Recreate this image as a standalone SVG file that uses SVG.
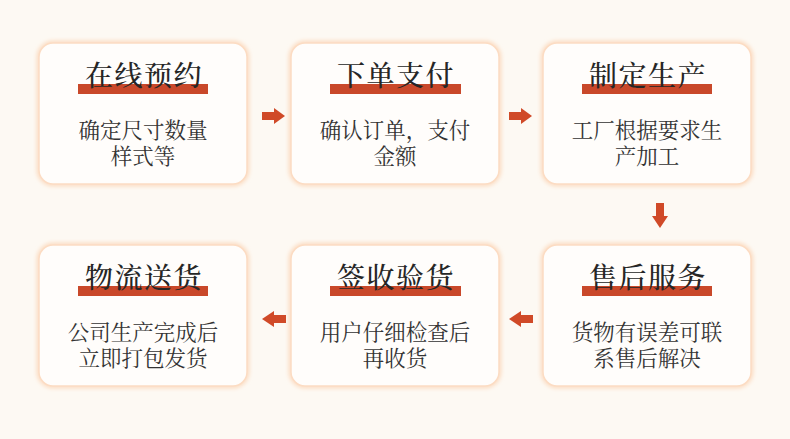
<svg xmlns="http://www.w3.org/2000/svg" width="790" height="439" viewBox="0 0 790 439">
<defs>
<filter id="glow" x="-10%" y="-10%" width="120%" height="120%">
<feGaussianBlur stdDeviation="2"/>
</filter>
<style>
.glow{fill:none;stroke:#fbd6b8;stroke-width:4;filter:url(#glow)}
.box{fill:#fffdfb;stroke:#fcdcc3;stroke-width:1.5}
.bar{fill:#c9482a}
.title{font-family:"Noto Serif CJK SC","Noto Sans CJK SC",serif;font-size:28px;font-weight:500;fill:#262626;text-anchor:middle;letter-spacing:1.5px}
.body{font-family:"Noto Serif CJK SC","Noto Sans CJK SC",serif;font-size:21.5px;fill:#333333;text-anchor:middle}
.arr{fill:#d04a28}
</style>
</defs>
<rect width="790" height="439" fill="#fdf9f3"/>
<g id="node1">
<rect class="glow" x="39" y="43" width="208" height="141" rx="14"/>
<rect class="box" x="39" y="43" width="208" height="141" rx="14"/>
<rect class="bar" x="78" y="84" width="130" height="10"/>
<text class="title" x="144" y="86">在线预约</text>
<text class="body" x="143" y="138">确定尺寸数量</text>
<text class="body" x="143" y="164">样式等</text>
</g>
<g id="node2">
<rect class="glow" x="291" y="43" width="208" height="141" rx="14"/>
<rect class="box" x="291" y="43" width="208" height="141" rx="14"/>
<rect class="bar" x="330" y="84" width="131" height="10"/>
<text class="title" x="396" y="86">下单支付</text>
<text class="body" x="395" y="138">确认订单，支付</text>
<text class="body" x="395" y="164">金额</text>
</g>
<g id="node3">
<rect class="glow" x="543" y="43" width="208" height="141" rx="14"/>
<rect class="box" x="543" y="43" width="208" height="141" rx="14"/>
<rect class="bar" x="582" y="84" width="130" height="10"/>
<text class="title" x="648" y="86">制定生产</text>
<text class="body" x="647" y="138">工厂根据要求生</text>
<text class="body" x="647" y="164">产加工</text>
</g>
<g id="node4">
<rect class="glow" x="543" y="245" width="208" height="141" rx="14"/>
<rect class="box" x="543" y="245" width="208" height="141" rx="14"/>
<rect class="bar" x="582" y="286" width="130" height="10"/>
<text class="title" x="648" y="288">售后服务</text>
<text class="body" x="647" y="340">货物有误差可联</text>
<text class="body" x="647" y="366">系售后解决</text>
</g>
<g id="node5">
<rect class="glow" x="291" y="245" width="208" height="141" rx="14"/>
<rect class="box" x="291" y="245" width="208" height="141" rx="14"/>
<rect class="bar" x="330" y="286" width="131" height="10"/>
<text class="title" x="396" y="288">签收验货</text>
<text class="body" x="395" y="340">用户仔细检查后</text>
<text class="body" x="395" y="366">再收货</text>
</g>
<g id="node6">
<rect class="glow" x="39" y="245" width="208" height="141" rx="14"/>
<rect class="box" x="39" y="245" width="208" height="141" rx="14"/>
<rect class="bar" x="78" y="286" width="130" height="10"/>
<text class="title" x="144" y="288">物流送货</text>
<text class="body" x="143" y="340">公司生产完成后</text>
<text class="body" x="143" y="366">立即打包发货</text>
</g>
<g id="connectors">
<polygon class="arr" points="262,112 274,112 274,108 285,116 274,124 274,120 262,120"/>
<polygon class="arr" points="509,112 521,112 521,108 532,116 521,124 521,120 509,120"/>
<polygon class="arr" points="656,203 664,203 664,216 668,216 660,228 652,216 656,216"/>
<polygon class="arr" points="533,315 521,315 521,311 509,319 521,327 521,323 533,323"/>
<polygon class="arr" points="286,315 274,315 274,311 262,319 274,327 274,323 286,323"/>
</g>
</svg>
